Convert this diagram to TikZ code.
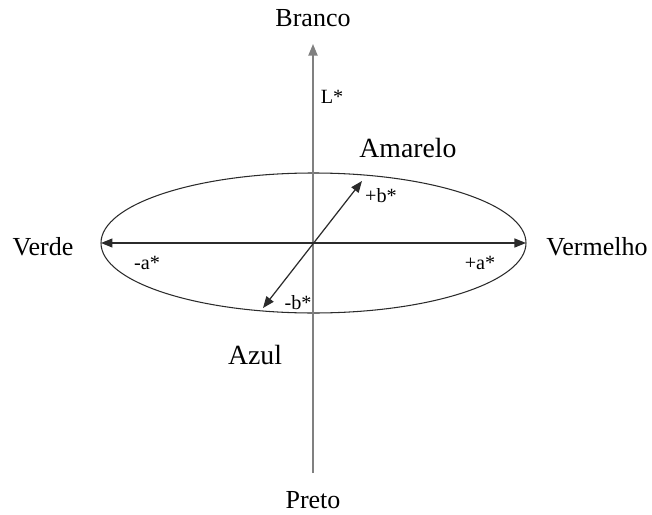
\documentclass[tikz,border=0pt]{standalone}
\usepackage{fontspec}
\setmainfont{Liberation Serif}
\usetikzlibrary{arrows.meta}
\definecolor{axisColor}{HTML}{808080}
\definecolor{lineColor}{HTML}{2B2B2B}

\begin{document}
\begin{tikzpicture}[
    axisTip/.style={-{Triangle[length=2.3mm,width=1.8mm]}},
    bothTips/.style={{Triangle[length=2.3mm,width=1.8mm]}-{Triangle[length=2.3mm,width=1.8mm]}},
    mainLabel/.style={font=\fontsize{14.8}{16}\selectfont, inner sep=0pt},
    bigLabel/.style={font=\fontsize{15.8}{17}\selectfont, inner sep=0pt},
    smallLabel/.style={font=\fontsize{11.5}{12}\selectfont, inner sep=0pt}
  ]
  \useasboundingbox (-6.26,-5.44) rectangle (6.78,4.86);
  % axis end points
  \coordinate (center) at (0,0);
  \coordinate (lBottom) at (0,-4.6);
  \coordinate (lTop) at (0,3.98);
  \coordinate (aLeft) at (-4.24,0);
  \coordinate (aRight) at (4.26,0);
  \coordinate (bLow) at (-1.0,-1.3);
  \coordinate (bHigh) at (0.98,1.24);

  \draw[lineColor, line width=0.6pt] (0.01,0) ellipse (4.25 and 1.4);
  \draw[axisColor, line width=1pt, axisTip] (lBottom) -- (lTop);
  \draw[lineColor, line width=0.7pt, bothTips] (aLeft) -- (aRight);
  \draw[lineColor, line width=0.7pt, bothTips] (bLow) -- (bHigh);

  % labels
  \node[mainLabel] (branco) at (0,4.5) {Branco};
  \node[mainLabel] (preto) at (0,-5.14) {Preto};
  \node[mainLabel] (verde) at (-5.4,-0.08) {Verde};
  \node[mainLabel] (vermelho) at (5.68,-0.08) {Vermelho};
  \node[bigLabel] (amarelo) at (1.9,1.9) {Amarelo};
  \node[bigLabel] (azul) at (-1.16,-2.24) {Azul};
  \node[smallLabel] (lStar) at (0.38,2.92) {L*};
  \node[smallLabel] (bPlus) at (1.36,0.94) {+b*};
  \node[smallLabel] (bMinus) at (-0.3,-1.2) {-b*};
  \node[smallLabel] (aMinus) at (-3.32,-0.4) {-a*};
  \node[smallLabel] (aPlus) at (3.34,-0.4) {+a*};
\end{tikzpicture}
\end{document}
